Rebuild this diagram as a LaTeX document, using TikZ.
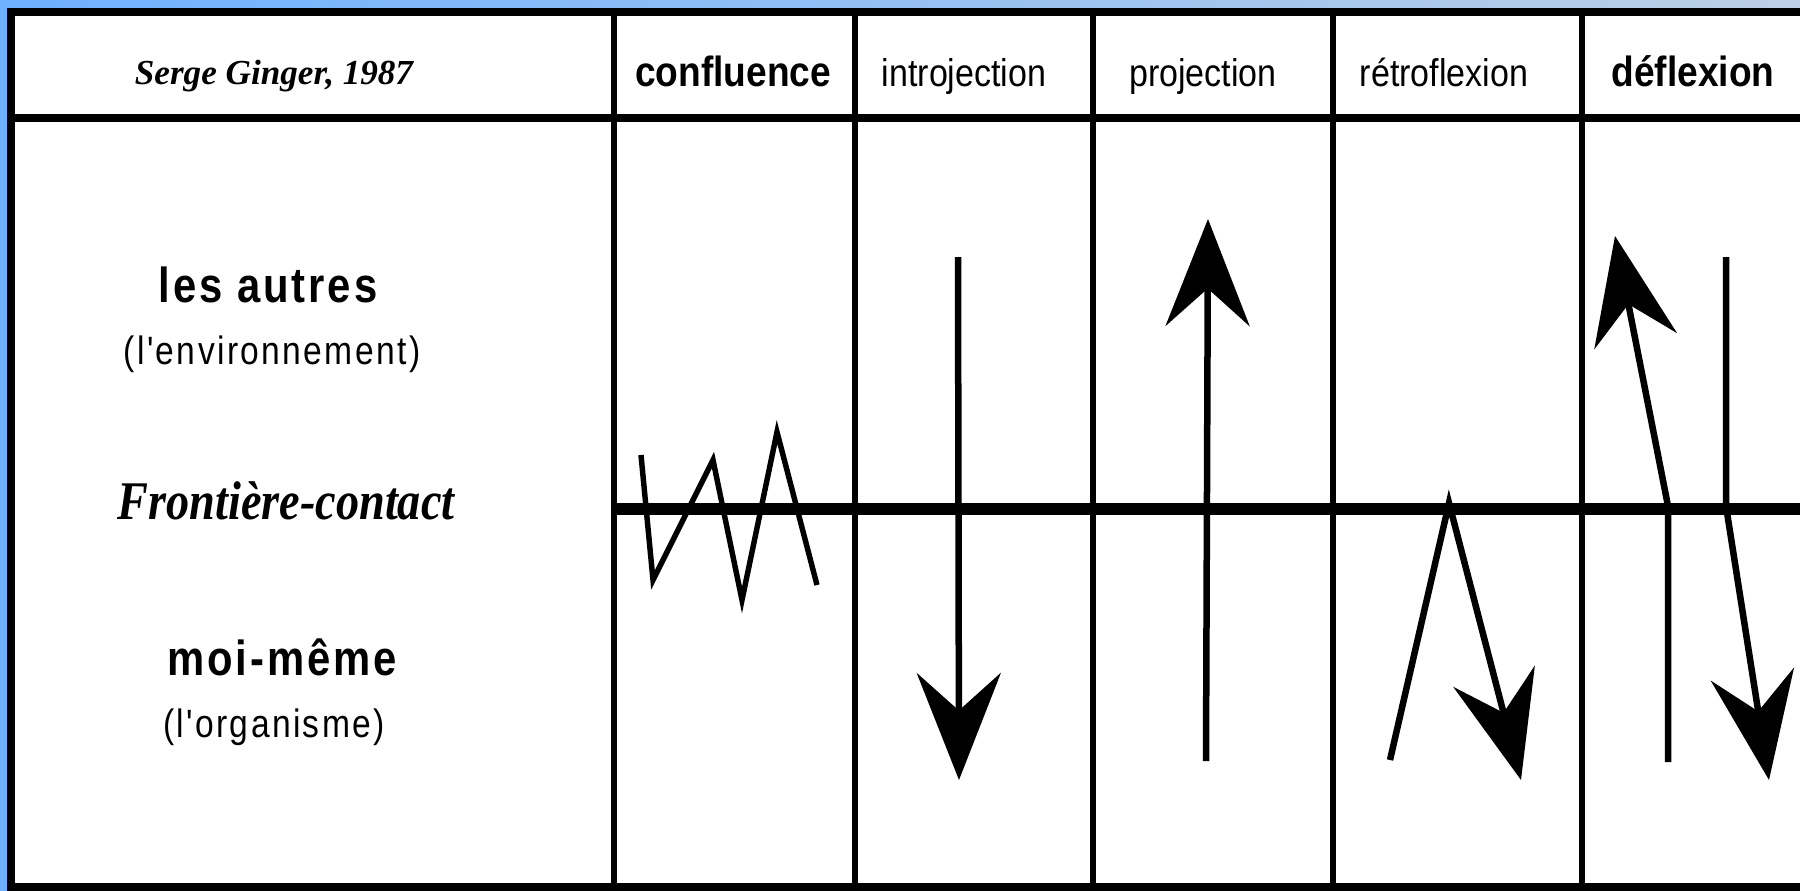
\documentclass[tikz,border=0pt]{standalone}
\usepackage{fontspec}
\setmainfont{Liberation Serif}
\newfontfamily\headfont[FakeStretch=0.88]{Liberation Sans}
\newfontfamily\sidefont[FakeStretch=0.85,LetterSpace=6]{Liberation Sans}
\newfontfamily\edgefont[FakeStretch=0.85]{Liberation Serif}
\usetikzlibrary{arrows.meta}
\definecolor{bgleft}{RGB}{110,176,255}
\definecolor{bgright}{RGB}{188,208,230}

\begin{document}
\begin{tikzpicture}[x=0.02cm, y=-0.02cm,
                    lbl/.style={inner sep=0pt, anchor=base},
                    head/.style={lbl, font=\headfont\fontsize{22}{26}\selectfont},
                    boldhead/.style={lbl, font=\headfont\bfseries\fontsize{24}{28}\selectfont},
                    side/.style={lbl, font=\sidefont\bfseries\fontsize{28}{32}\selectfont},
                    sidenote/.style={lbl, font=\sidefont\fontsize{22.5}{26}\selectfont},
                    rule/.style={draw=black, line width=3.4pt},
                    flow/.style={line width=3.7pt, -{Stealth[length=2.14cm, width=1.68cm, inset=0.75cm]}}]
                        \useasboundingbox (0,0) rectangle (1800,890);
                        \shade[left color=bgleft, right color=bgright] (0,0) rectangle (1800,890);
                        \filldraw[fill=white, draw=black, line width=4pt] (11,12) rectangle (1812,887);
                        \draw[rule, line width=4pt] (11,118) -- (1800,118);
                        \foreach \x in {614,855,1093,1333,1582}
                        \draw[rule] (\x,12) -- (\x,887);
                        \draw[line width=6.8pt] (614,509) -- (1800,509);

                        \node[lbl, font=\bfseries\itshape\fontsize{20}{24}\selectfont] (serge) at (274,84) {Serge Ginger, 1987};
                        \node[boldhead] (conf) at (733,86) {confluence};
                        \node[head] (intro) at (964,86) {introjection};
                        \node[head] (proj) at (1203,86) {projection};
                        \node[head] (retro) at (1444,86) {rétroflexion};
                        \node[boldhead] (defl) at (1693,86) {déflexion};

                        \node[side] (autres) at (268,302) {les autres};
                        \node[sidenote] (env) at (272,364) {(l'environnement)};
                        \node[lbl, font=\edgefont\bfseries\itshape\fontsize{31}{34}\selectfont] (frontiere) at (286,519) {Frontière-contact};
                        \node[side] (moi) at (282,675) {moi-même};
                        \node[sidenote] (orga) at (274,737) {(l'organisme)};

                        \coordinate (z1) at (641,455);
                        \coordinate (z2) at (653,580);
                        \coordinate (z3) at (713,460);
                        \coordinate (z4) at (742,600);
                        \coordinate (z5) at (777,432);
                        \coordinate (z6) at (817,585);
                        \draw[line width=3.1pt] (z1) -- (z2) -- (z3) -- (z4) -- (z5) -- (z6);

                        \coordinate (intro-top) at (958,257);
                        \coordinate (intro-tip) at (959,780);
                        \draw[flow] (intro-top) -- (intro-tip);

                        \coordinate (proj-foot) at (1206,761);
                        \coordinate (proj-tip) at (1208,219);
                        \draw[flow] (proj-foot) -- (proj-tip);

                        \coordinate (retro-foot) at (1390,760);
                        \coordinate (retro-peak) at (1449,503);
                        \coordinate (retro-tip) at (1521,780);
                        \draw[flow] (retro-foot) -- (retro-peak) -- (retro-tip);

                        \coordinate (defl-foot) at (1668,762);
                        \coordinate (defl-knee) at (1668,506);
                        \coordinate (defl-tip) at (1615,236);
                        \draw[flow] (defl-foot) -- (defl-knee) -- (defl-tip);

                        \coordinate (defl-top) at (1726,257);
                        \coordinate (defl-bend) at (1726,506);
                        \coordinate (defl-end) at (1769,780);
                        \draw[flow] (defl-top) -- (defl-bend) -- (defl-end);
                    \end{tikzpicture}
\end{document}
